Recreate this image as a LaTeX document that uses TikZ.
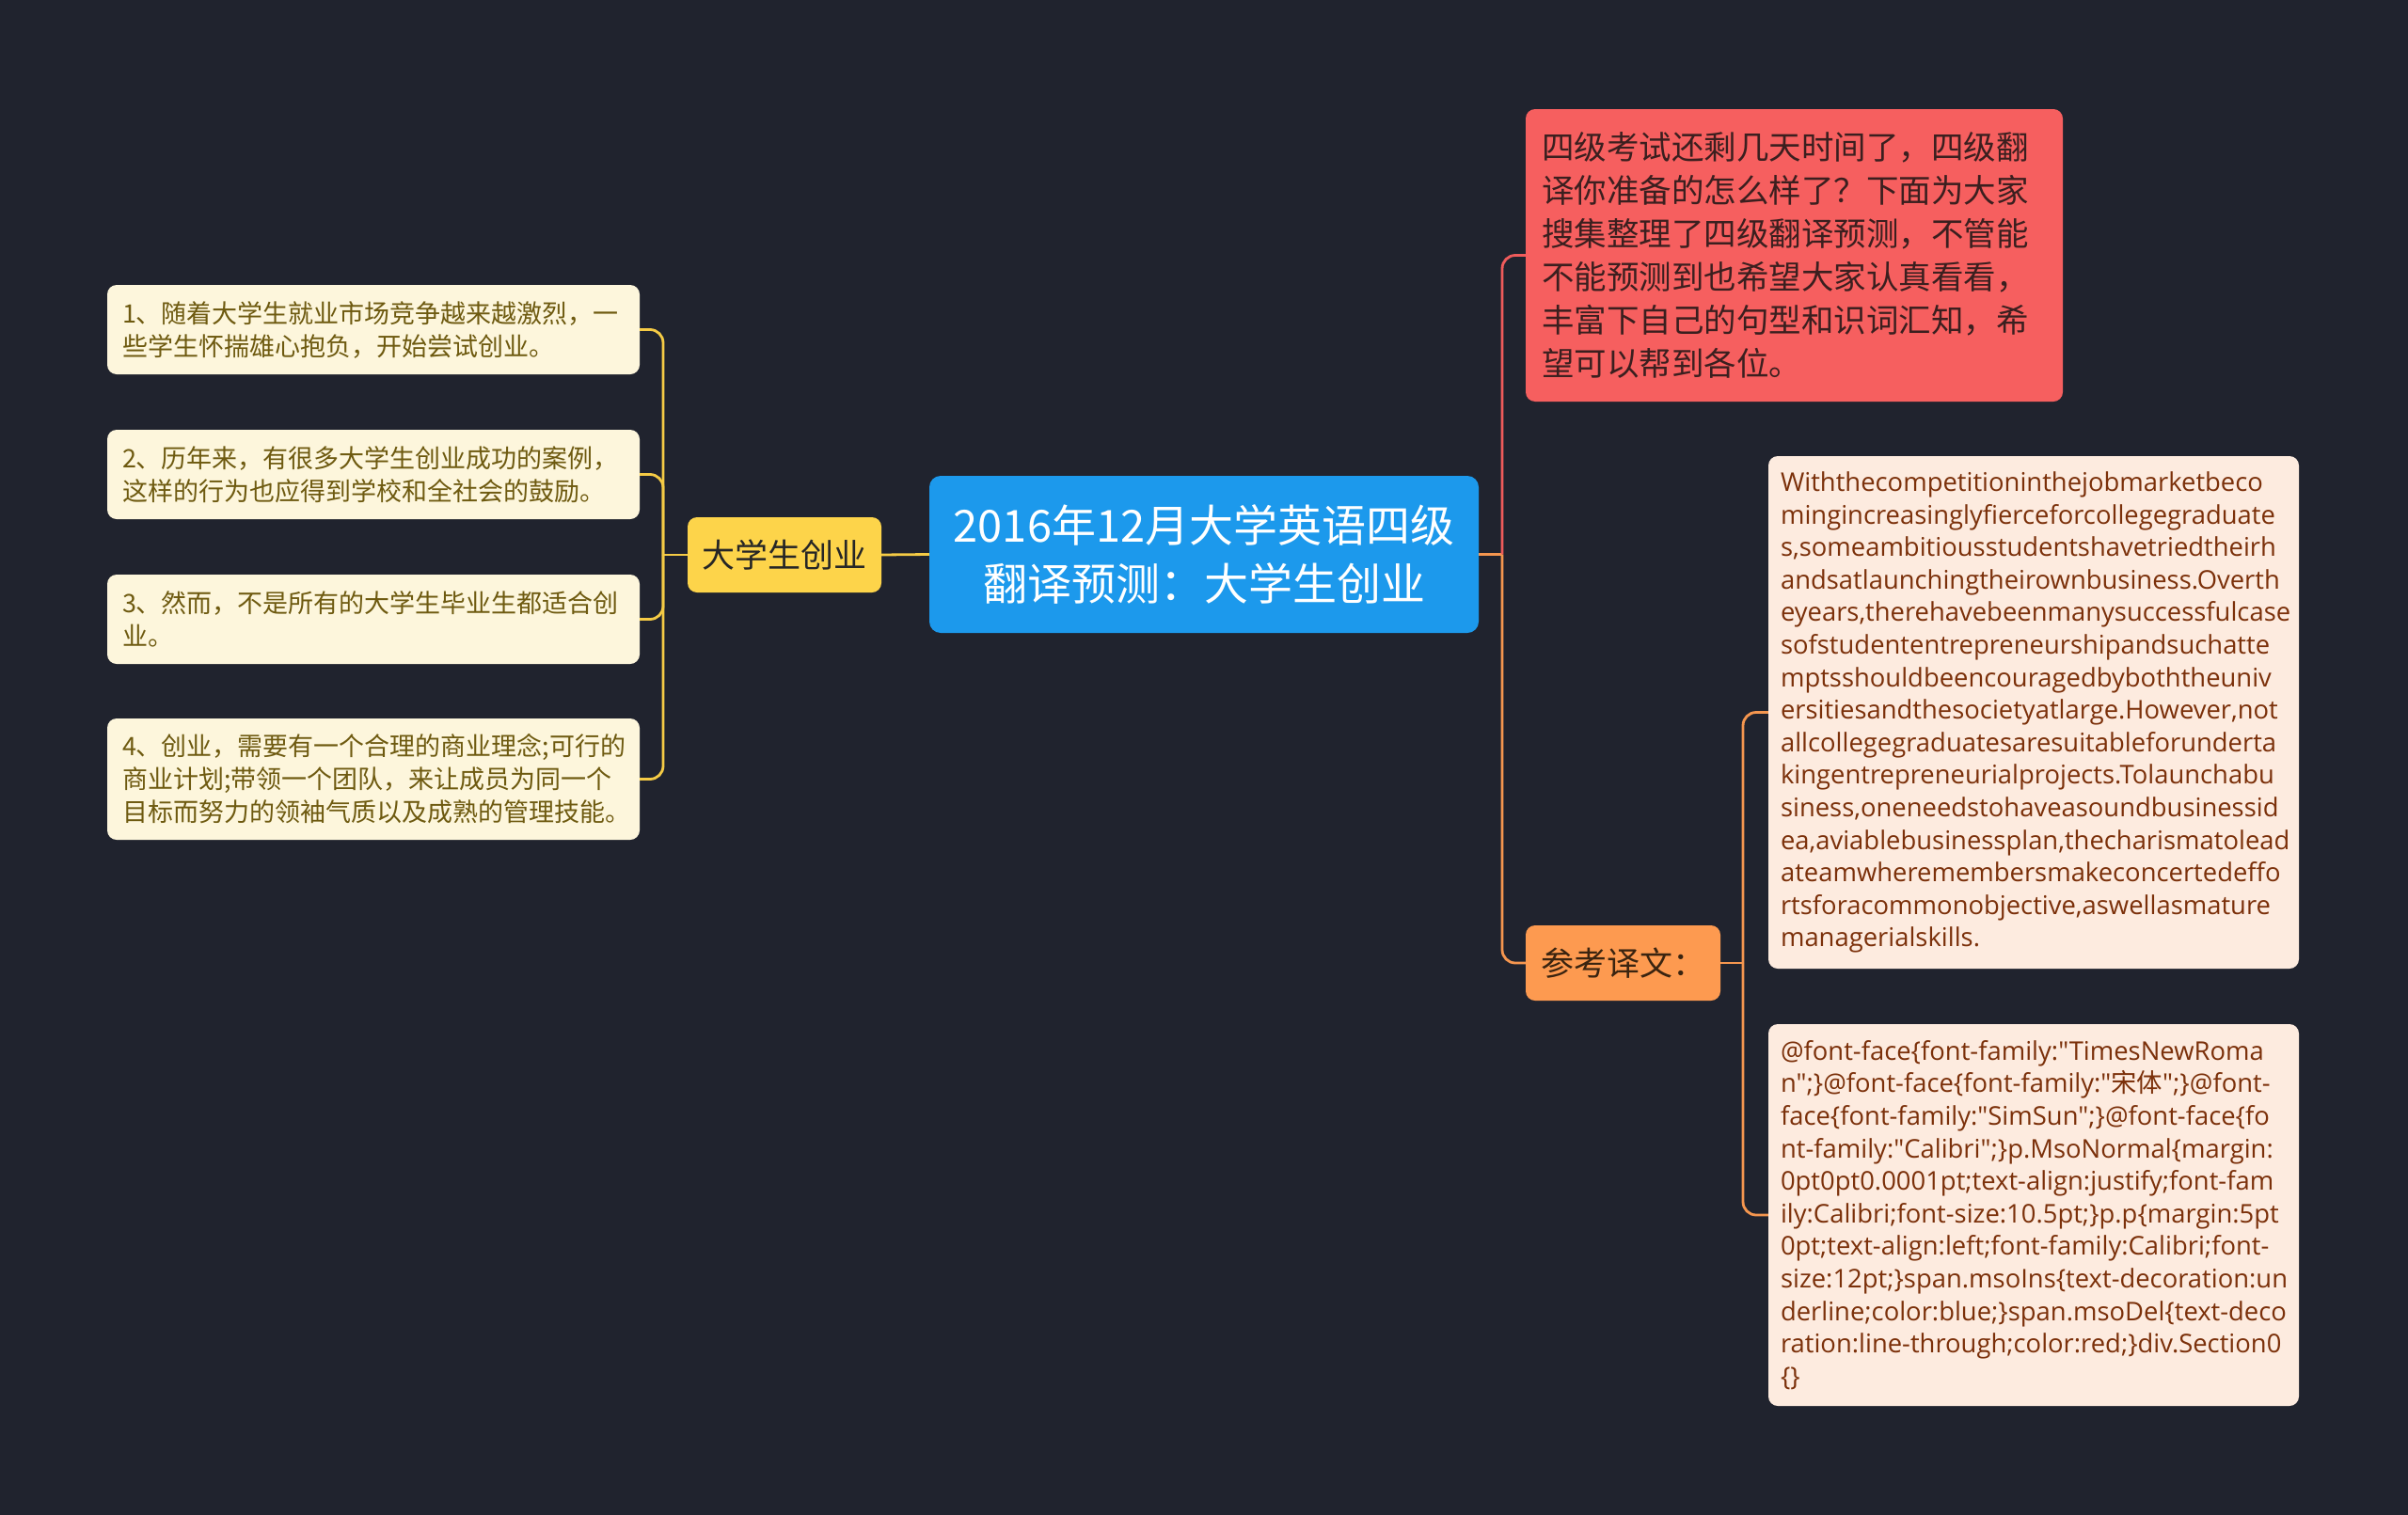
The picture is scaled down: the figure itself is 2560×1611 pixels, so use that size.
\documentclass[tikz,border=0pt]{standalone}
\usepackage{fontspec}
\setmainfont{Noto Sans CJK SC}
\newfontfamily\cjkf{Noto Sans CJK SC}
\newfontfamily\latf{Open Sans}
\newcommand\nohyphx{\hyphenpenalty=10000\relax\exhyphenpenalty=10000\relax}
\definecolor{bgc}{HTML}{20232E}
\definecolor{ylwline}{HTML}{F5CB45}
\definecolor{redline}{HTML}{EF5B5B}
\definecolor{orgline}{HTML}{F5964F}
\definecolor{leafY}{HTML}{FDF6DC}
\definecolor{leafYt}{HTML}{6E5A10}
\definecolor{subY}{HTML}{FDD44A}
\definecolor{rootB}{HTML}{1C99EC}
\definecolor{redN}{HTML}{F65F5F}
\definecolor{redNt}{HTML}{3B1F1F}
\definecolor{orgN}{HTML}{FD9A50}
\definecolor{orgNt}{HTML}{3A2410}
\definecolor{leafO}{HTML}{FDEBDF}
\definecolor{leafOt}{HTML}{7B300A}
\begin{document}
\begin{tikzpicture}[x=1pt,y=-1pt,
  box/.style={rectangle, rounded corners=10pt, inner ysep=0pt},
  rootbox/.style={box, rounded corners=12pt, fill=rootB, text=white, minimum width=584pt, minimum height=167pt, text width=548pt, inner xsep=18pt, align=center, font=\fontsize{47}{62}\selectfont},
  subbox/.style={box, minimum width=206pt, minimum height=80pt, align=center, font=\fontsize{35}{40}\selectfont},
  leafL/.style={box, fill=leafY, text=leafYt, minimum width=566pt, text width=534pt, inner xsep=16pt, align=left, font=\fontsize{27}{35}\selectfont},
  leafR/.style={box, fill=leafO, text=leafOt, minimum width=564pt, text width=538pt, inner xsep=13pt, align=left, font=\latf\fontsize{27.4}{34.6}\selectfont, execute at begin node=\nohyphx},
  conn/.style={line width=2.8pt, rounded corners=14pt}
]
\fill[bgc] (0,0) rectangle (2560,1611);
\useasboundingbox (0,0) rectangle (2560,1611);

% root
\node[rootbox] (root) at (1280,589.5) {2016年12月大学英语四级\\翻译预测：大学生创业};

% left branch
\node[subbox, fill=subY, text=black!85] (dxs) at (834,590) {大学生创业};
\node[leafL, minimum height=95pt] (l1) at (397,350.5) {1、随着大学生就业市场竞争越来越激烈，一\\些学生怀揣雄心抱负，开始尝试创业。};
\node[leafL, minimum height=95pt] (l2) at (397,504.5) {2、历年来，有很多大学生创业成功的案例，\\这样的行为也应得到学校和全社会的鼓励。};
\node[leafL, minimum height=95pt] (l3) at (397,658.5) {3、然而，不是所有的大学生毕业生都适合创\\业。};
\node[leafL, minimum height=129pt] (l4) at (397,828.5) {4、创业，需要有一个合理的商业理念;可行的\\商业计划;带领一个团队，来让成员为同一个\\目标而努力的领袖气质以及成熟的管理技能。};

\coordinate (lj) at (705,590);
\draw[conn, ylwline] (root.west) -- (dxs.east);
\draw[conn, ylwline] (dxs.west) -- (lj);
\draw[conn, ylwline] (lj) |- (l1.east);
\draw[conn, ylwline] (lj) |- (l2.east);
\draw[conn, ylwline] (lj) |- (l3.east);
\draw[conn, ylwline] (lj) |- (l4.east);

% right branch
\node[box, fill=redN, text=redNt, minimum width=571pt, minimum height=311pt, text width=537pt, inner xsep=17pt, align=left, font=\fontsize{34.5}{46}\selectfont] (intro) at (1907.5,271.5) {四级考试还剩几天时间了，四级翻\\译你准备的怎么样了？下面为大家\\搜集整理了四级翻译预测，不管能\\不能预测到也希望大家认真看看，\\丰富下自己的句型和识词汇知，希\\望可以帮到各位。};
\node[subbox, fill=orgN, text=orgNt, minimum width=207pt, text width=175pt, inner xsep=16pt, align=left] (ckyw) at (1725.5,1024) {参考译文：};

\node[leafR, minimum height=545pt] (eng) at (2162,757.5) {Withthecompetitioninthejobmarketbeco\\mingincreasinglyfierceforcollegegraduate\\s,someambitiousstudentshavetriedtheirh\\andsatlaunchingtheirownbusiness.Overth\\eyears,therehavebeenmanysuccessfulcase\\sofstudententrepreneurshipandsuchatte\\mptsshouldbeencouragedbyboththeuniv\\ersitiesandthesocietyatlarge.However,not\\allcollegegraduatesaresuitableforunderta\\kingentrepreneurialprojects.Tolaunchabu\\siness,oneneedstohaveasoundbusinessid\\ea,aviablebusinessplan,thecharismatolead\\ateamwheremembersmakeconcertedeffo\\rtsforacommonobjective,aswellasmature\\managerialskills.};

\node[leafR, minimum height=406pt] (css) at (2162,1292) {@font-face\{font-family:"TimesNewRoma\\n";\}@font-face\{font-family:"{\cjkf 宋体}";\}@font-\\face\{font-family:"SimSun";\}@font-face\{fo\\nt-family:"Calibri";\}p.MsoNormal\{margin:\\0pt0pt0.0001pt;text-align:justify;font-fam\\ily:Calibri;font-size:10.5pt;\}p.p\{margin:5pt\\0pt;text-align:left;font-family:Calibri;font-\\size:12pt;\}span.msoIns\{text-decoration:un\\derline;color:blue;\}span.msoDel\{text-deco\\ration:line-through;color:red;\}div.Section0\\\{\}};

\coordinate (rj) at (1597,589.5);
\coordinate (sj) at (1853,1024);
\draw[conn, orgline] (root.east) -- (rj);
\draw[conn, redline] (rj) |- (intro.west);
\draw[conn, orgline] (rj) |- (ckyw.west);
\draw[conn, orgline] (ckyw.east) -- (sj);
\draw[conn, orgline] (sj) |- (eng.west);
\draw[conn, orgline] (sj) |- (css.west);
\end{tikzpicture}
\end{document}
